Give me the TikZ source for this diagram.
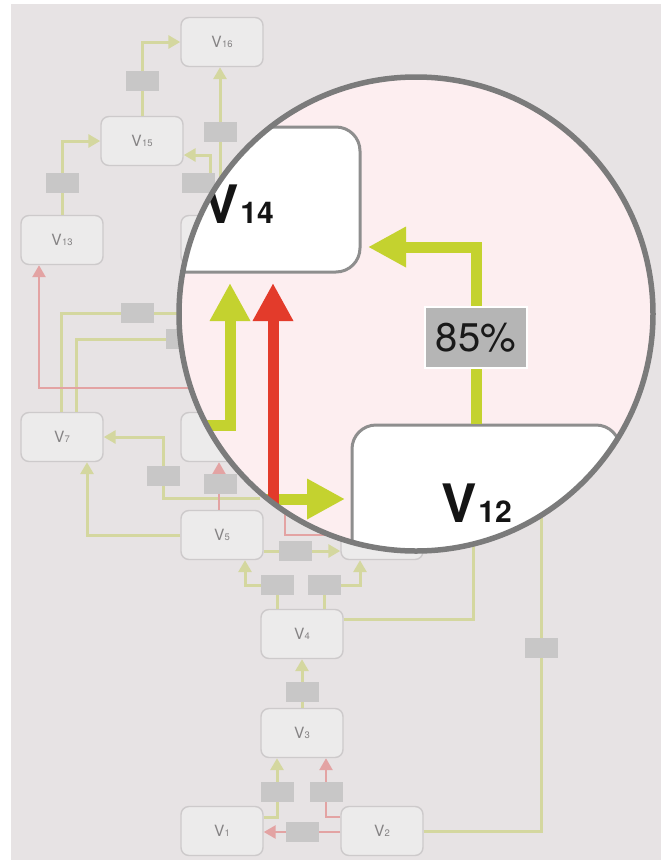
\documentclass[tikz,border=0pt]{standalone}
\usepackage{fontspec}
\setmainfont{TeX Gyre Heros}
\usetikzlibrary{arrows.meta}
\definecolor{bgc}{HTML}{E7E3E4}
\definecolor{snodef}{HTML}{ECEBEB}
\definecolor{snodeb}{HTML}{CDCACB}
\definecolor{stext}{HTML}{858384}
\definecolor{labc}{HTML}{C8C7C7}
\definecolor{sgc}{HTML}{D4D79F}
\definecolor{src}{HTML}{E3A3A3}
\definecolor{pinkc}{HTML}{FDEEF0}
\definecolor{bnb}{HTML}{8E8E8E}
\definecolor{bgcol}{HTML}{C4D22F}
\definecolor{brc}{HTML}{E33B2B}
\definecolor{pctc}{HTML}{B5B5B5}
\definecolor{ringc}{HTML}{7B7B7B}
\newcommand\smv[1]{{\fontsize{15.5}{15.5}\selectfont V}\kern0.3pt\raisebox{-0.6pt}{\fontsize{9.5}{9.5}\selectfont #1}}
\newcommand\bigv[1]{{\fontsize{53}{53}\selectfont\bfseries V}\kern1.5pt{\fontsize{30}{30}\selectfont\bfseries #1}}
\begin{document}
\begin{tikzpicture}[x=1pt,y=-1pt,
  snode/.style={draw=snodeb, fill=snodef, rounded corners=8pt, minimum width=82pt, minimum height=49pt, inner sep=0pt, line width=1.4pt, text=stext},
  lab/.style={fill=labc, minimum width=33pt, minimum height=20pt, inner sep=0pt},
  sg/.style={draw=sgc, line width=3pt, -{Triangle[length=12pt,width=13pt]}},
  sgn/.style={draw=sgc, line width=3pt},
  sr/.style={draw=src, line width=2.6pt, -{Triangle[length=12pt,width=13pt]}},
  srn/.style={draw=src, line width=2.6pt},
  bnode/.style={draw=bnb, fill=white, rounded corners=24pt, line width=3pt, inner sep=0pt},
  bga/.style={draw=bgcol, line width=11pt, -{Triangle[length=38pt,width=38pt]}},
  bra/.style={draw=brc, line width=11pt, -{Triangle[length=38pt,width=38pt]}},
  pct/.style={fill=pctc, draw=white, line width=2.5pt, minimum width=102pt, minimum height=61pt, inner sep=0pt, font=\fontsize{40}{40}\selectfont, text=black!90},
  btext/.style={inner sep=0pt, anchor=base east, text=black!92}
]
\useasboundingbox (0,0) rectangle (661,863);
\fill[white] (0,0) rectangle (661,863);
\fill[bgc] (11,4) rectangle (661,860);

% small nodes
\node[snode] (v16) at (222,42) {\smv{16}};
\node[snode] (v15) at (142,141) {\smv{15}};
\node[snode] (v13) at (62,240) {\smv{13}};
\node[snode] (v14s) at (222,240) {};
\node[snode] (n9) at (222,437) {};
\node[snode] (v7) at (62,437) {\smv{7}};
\node[snode] (v5) at (222,535) {\smv{5}};
\node[snode] (n6) at (382,535) {};
\node[snode] (v4) at (302,634) {\smv{4}};
\node[snode] (v3) at (302,733) {\smv{3}};
\node[snode] (v1) at (222,831) {\smv{1}};
\node[snode] (v2) at (382,831) {\smv{2}};

% coordinates
\coordinate (c5) at (260,313);
\coordinate (c6) at (260,339);
\coordinate (c7) at (260,498);
\coordinate (j7) at (163,437);
\coordinate (b10) at (277,585);
\coordinate (b11) at (324,585);
\coordinate (c14) at (473,500);
\coordinate (c15) at (541,500);
\coordinate (c19) at (250,388);
\coordinate (c20) at (285,500);

% small connectors
\draw[sg] (v13) |- (v15);
\draw[sg] (v15) |- (v16);
\draw[sg] ([xshift=-2pt]v14s.north) -- ([xshift=-2pt]v16.south);
\draw[sg] ([xshift=-12pt]v14s.north) |- ([yshift=-14pt]v15.east);
\draw[sgn] ([xshift=-1pt]v7.north) |- (c5);
\draw[sgn] ([xshift=14pt]v7.north) |- (c6);
\draw[sg] (c7) -| (j7) -- (v7.east);
\draw[sg] (v5.west) -| ([xshift=25pt]v7.south);
\draw[sg] ([yshift=-16pt]v5.east) -- ([yshift=-16pt]n6.west);
\draw[sg] ([xshift=-25pt]v4.north) |- (b10) -| ([xshift=23pt]v5.south);
\draw[sg] ([xshift=22pt]v4.north) |- (b11) -| ([xshift=-22pt]n6.south);
\draw[sg] (v3) -- (v4);
\draw[sg] ([yshift=14pt]v1.east) -| ([xshift=-25pt]v3.south);
\draw[sgn] ([yshift=15pt]v4.east) -| (c14);
\draw[sgn] (v2.east) -| (c15);
\draw[sr] ([yshift=14pt]v2.west) -| ([xshift=24pt]v3.south);
\draw[sr] ([yshift=-1pt]v2.west) -- ([yshift=-1pt]v1.east);
\draw[sr] ([xshift=-3pt]v5.north) -- ([xshift=-3pt]n9.south);
\draw[sr] (c19) -| ([xshift=-23pt]v13.south);
\draw[srn] (c20) |- (n6.west);

% small labels
\node[lab] (l1) at (142,81) {};
\node[lab] (l2) at (220,132) {};
\node[lab] (l3) at (62,183) {};
\node[lab] (l4) at (198,183) {};
\node[lab] (l5) at (137,313) {};
\node[lab] (l6) at (182,339) {};
\node[lab] (l7) at (163,476) {};
\node[lab] (l8) at (220,484) {};
\node[lab] (l9) at (295,551) {};
\node[lab] (l10) at (b10) {};
\node[lab] (l11) at (b11) {};
\node[lab] (l12) at (302,692) {};
\node[lab] (l13) at (277,792) {};
\node[lab] (l14) at (326,792) {};
\node[lab] (l15) at (302,832) {};
\node[lab] (l16) at (541,648) {};

% magnifier
\fill[pinkc] (416,314) circle [radius=237pt];
\begin{scope}
\clip (416,314) circle [radius=237pt];
\node[bnode, minimum width=260pt, minimum height=145pt] (bv14) at (230,199.5) {};
\node[bnode, minimum width=268pt, minimum height=145pt] (bv12) at (486,497.5) {};
\node[btext] (t14) at (274,223) {\bigv{14}};
\node[btext] (t12) at (512,522) {\bigv{12}};
\coordinate (k85) at (476,337.5);
\coordinate (cA) at (368,247);
\coordinate (cB) at (160,425);
\coordinate (cC) at (230,283);
\coordinate (cD) at (273,575);
\coordinate (cE) at (273,283);
\coordinate (cF) at (160,499);
\coordinate (cG) at (345,499);
\draw[bga] (bv12.north -| k85) |- (cA);
\draw[bga] (cB) -| (cC);
\draw[bga] (cF) -- (cG);
\draw[bra] (cD) -- (cE);
\node[pct] (l85) at (k85) {85\%};
\end{scope}
\draw[ringc, line width=5.5pt] (416,314) circle [radius=237pt];
\end{tikzpicture}
\end{document}
